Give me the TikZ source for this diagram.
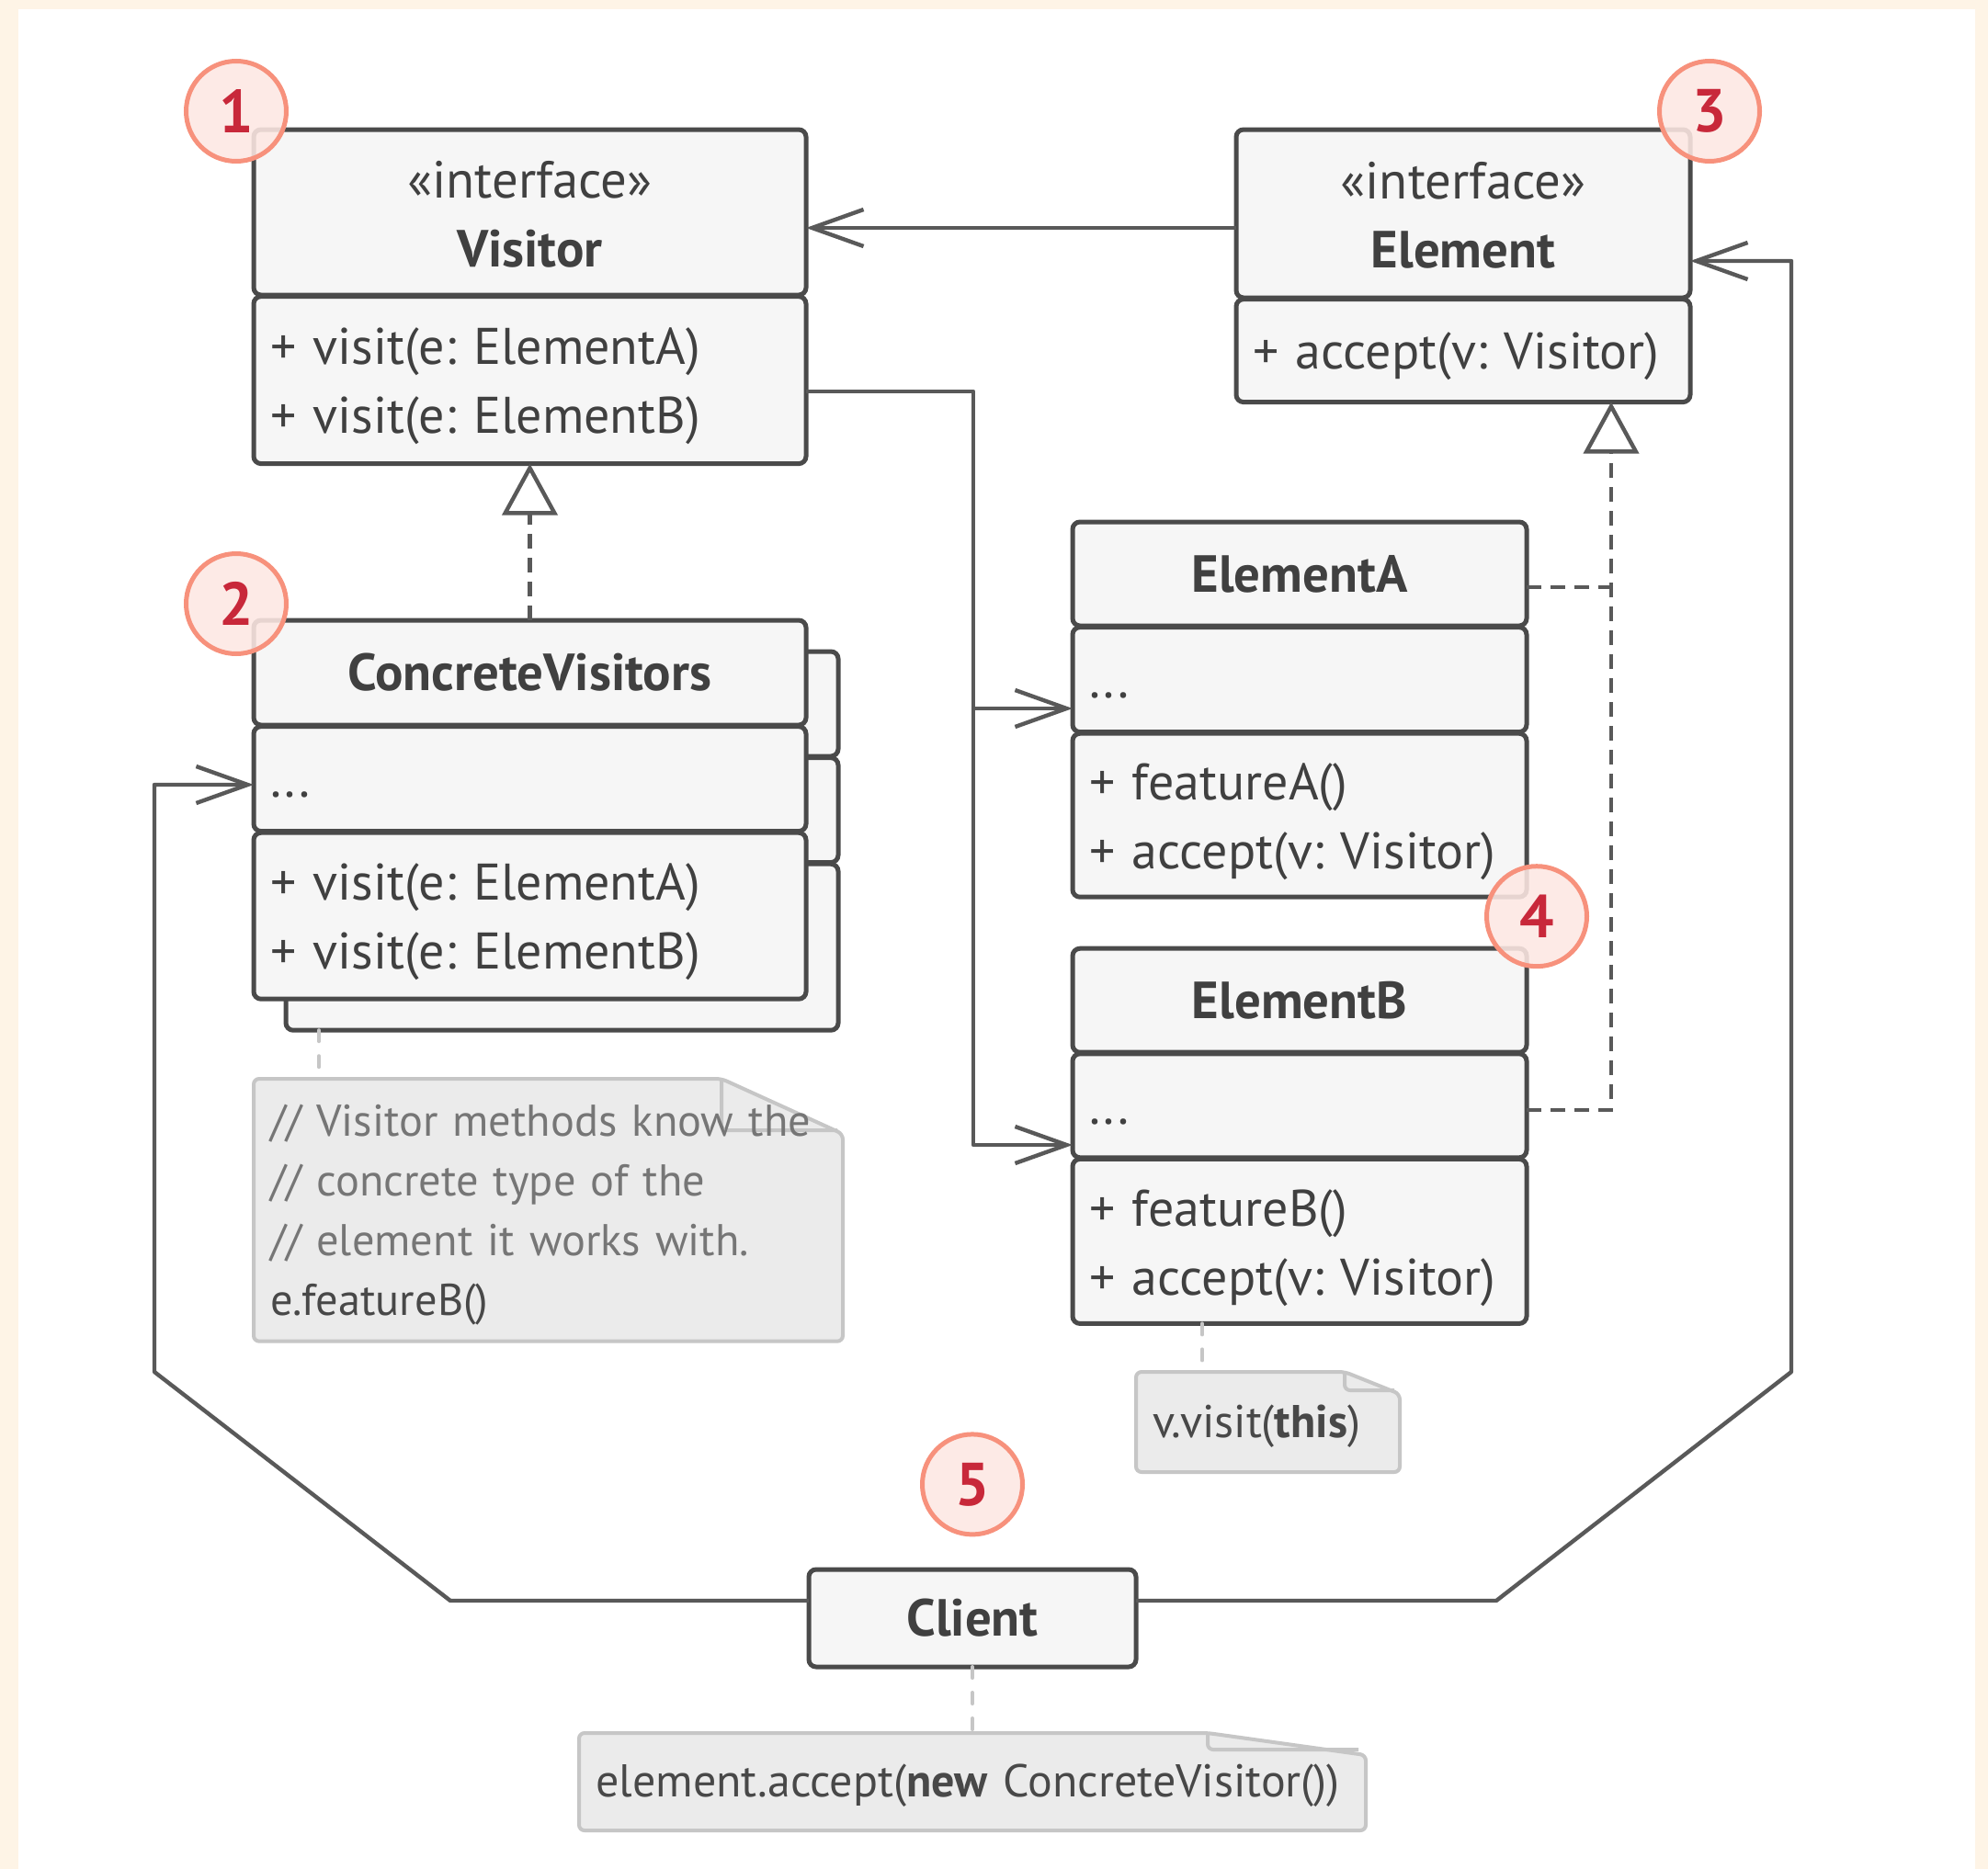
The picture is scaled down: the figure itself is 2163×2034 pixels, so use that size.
\documentclass[tikz,border=0pt]{standalone}
\usepackage{fontspec}
\setmainfont{PT Sans}
\usepackage{tikz}
\usetikzlibrary{positioning,arrows.meta,backgrounds}

\definecolor{pagecream}{HTML}{FEF4E6}
\definecolor{boxline}{HTML}{4A4A4A}
\definecolor{boxfill}{HTML}{F6F6F6}
\definecolor{boxtext}{HTML}{404040}
\definecolor{wire}{HTML}{595959}
\definecolor{notefill}{HTML}{EBEBEB}
\definecolor{noteline}{HTML}{C6C6C6}
\definecolor{notecomment}{HTML}{767676}
\definecolor{notecode}{HTML}{484848}
\definecolor{badgefill}{HTML}{FDE8E3}
\definecolor{badgeline}{HTML}{F7917C}
\definecolor{badgenum}{HTML}{C8283A}

\tikzset{
  umlpart/.style={draw=boxline, fill=boxfill, line width=1.25pt, rounded corners=2pt,
    outer sep=0pt, inner sep=4.5pt, text=boxtext, font=\fontsize{14}{18.75}\selectfont},
  umlhead/.style={umlpart, align=center, font=\fontsize{14.2}{18.75}\selectfont},
  umliface/.style={umlhead, text height=29.7pt},
  umlbody/.style={umlpart, text width=#1, align=left},
  umlops/.style={umlbody=#1, text height=13.4pt},
  umlattrs/.style={umlbody=#1, text height=13pt, text depth=3pt},
  notetext/.style={text width=#1, align=left, inner sep=4.5pt, outer sep=0pt, text=notecode,
    text height=11pt, font=\fontsize{12.1}{16.25}\selectfont},
  noteshape/.style={draw=noteline, fill=notefill, line width=1pt, rounded corners=1.5pt, line join=round},
  noteconn/.style={draw=noteline, line width=1pt, line cap=round, dash pattern=on 3pt off 4pt},
  assoc/.style={draw=wire, line width=1.1pt, line join=round, -{Straight Barb[length=14pt,width=10pt]}},
  dashwire/.style={draw=wire, line width=1.1pt, dash pattern=on 4pt off 2.5pt},
  realize/.style={dashwire, -{Triangle[open,fill=white,length=14pt,width=15pt]}},
  badge/.style={circle, draw=badgeline, fill=badgefill, fill opacity=0.88, text opacity=1,
    line width=1.25pt, minimum size=27.25pt, inner sep=0pt, text=badgenum,
    font=\fontsize{16.5}{16.5}\bfseries\selectfont}
}

\begin{document}
\frenchspacing
\begin{tikzpicture}[x=0.25pt, y=-0.25pt]
  \useasboundingbox (0,0) rectangle (2163,2034);

  % Visitor interface
  \node[umliface, minimum width=150.25pt, minimum height=45pt, anchor=north west] (visitor) at (276,141) {«interface»\\\textbf{Visitor}};
  \node[umlops=141.25pt, minimum height=45.5pt, below=0.4pt of visitor] (visitorOps) {+ visit(e: ElementA)\\+ visit(e: ElementB)};

  % Element interface
  \node[umliface, minimum width=123.5pt, minimum height=45.75pt, anchor=north west] (element) at (1345,141) {«interface»\\\textbf{Element}};
  \node[umlattrs=114.5pt, minimum height=28pt, below=0.4pt of element] (elementOps) {+ accept(v: Visitor)};

  % concrete visitors (copy behind)
  \node[umlpart, minimum width=150.25pt, minimum height=28.5pt, anchor=north west] (cvBack) at (311,709) {};
  \node[umlpart, minimum width=150.25pt, minimum height=28.5pt, below=0.4pt of cvBack] (cvBackAttrs) {};
  \node[umlpart, minimum width=150.25pt, minimum height=45.25pt, below=0.4pt of cvBackAttrs] (cvBackOps) {};

  \node[umlhead, minimum width=150.25pt, minimum height=28.5pt, anchor=north west] (cv) at (276,675) {\textbf{ConcreteVisitors}};
  \node[umlattrs=141.25pt, minimum height=28.5pt, below=0.4pt of cv] (cvAttrs) {...};
  \node[umlops=141.25pt, minimum height=45.25pt, below=0.4pt of cvAttrs] (cvOps) {+ visit(e: ElementA)\\+ visit(e: ElementB)};

  % concrete elements
  \node[umlhead, minimum width=123.5pt, minimum height=28.25pt, anchor=north west] (elementA) at (1167,568) {\textbf{ElementA}};
  \node[umlattrs=114.5pt, minimum height=28.5pt, below=0.4pt of elementA] (elementAAttrs) {...};
  \node[umlops=114.5pt, minimum height=44.5pt, below=0.4pt of elementAAttrs] (elementAOps) {+ featureA()\\+ accept(v: Visitor)};

  \node[umlhead, minimum width=123.5pt, minimum height=28.25pt, below=14pt of elementAOps] (elementB) {\textbf{ElementB}};
  \node[umlattrs=114.5pt, minimum height=28.25pt, below=0.4pt of elementB] (elementBAttrs) {...};
  \node[umlops=114.5pt, minimum height=44.75pt, below=0.4pt of elementBAttrs] (elementBOps) {+ featureB()\\+ accept(v: Visitor)};

  % client
  \node[umlhead, minimum width=89pt, minimum height=26.5pt, anchor=north west] (client) at (880,1708) {\textbf{Client}};

  % notes
  \node[notetext=151.25pt, minimum height=71pt, anchor=north west] (note1) at (276,1174)
    {\textcolor{notecomment}{// Visitor methods know the}\\\textcolor{notecomment}{// concrete type of the}\\\textcolor{notecomment}{// element it works with.}\\e.featureB()};
  \node[notetext=62.75pt, minimum height=27.25pt, anchor=north west, font=\fontsize{12.5}{16.25}\selectfont] (note2) at (1236,1493) {v.visit(\textbf{this})};
  \node[notetext=205pt, minimum height=26.5pt, anchor=north west, font=\fontsize{12.5}{16.25}\selectfont] (note3) at (630,1886) {element.accept(\textbf{new} ConcreteVisitor())};

  \draw[noteconn] (cvBackOps.south -| 347,0) -- (note1.north -| 347,0);
  \draw[noteconn] (elementBOps.south -| 1308,0) -- (note2.north -| 1308,0);
  \draw[noteconn] (client.south) -- (note3.north -| client.south);

  % relations
  \draw[assoc] (element.west |- 0,248) -- (visitor.east |- 0,248);
  \draw[assoc] (visitorOps.east |- 0,426) -| (1059,1246) -- (elementBAttrs.west |- 0,1246);
  \draw[assoc] (1059,771) -- (elementAAttrs.west |- 0,771);
  \draw[realize] (cv.north) -- (visitorOps.south);
  \draw[dashwire] (elementA.east |- 0,639) -- (1753,639);
  \draw[realize] (elementBAttrs.east |- 0,1208) -| (elementOps.south -| 1753,0);
  \draw[assoc] (client.west |- 0,1742) -- (490,1742) -- (168,1493) -- (168,854) -- (cvAttrs.west |- 0,854);
  \draw[assoc] (client.east |- 0,1742) -- (1628,1742) -- (1949,1493) -- (1949,284) -- (element.east |- 0,284);

  % numbered badges
  \node[badge] (badge1) at ([shift={(-19,-20)}]visitor.north west) {1};
  \node[badge] (badge2) at ([shift={(-19,-18)}]cv.north west) {2};
  \node[badge] (badge3) at ([shift={(21,-20)}]element.north east) {3};
  \node[badge] (badge4) at ([shift={(11,21)}]elementAOps.south east) {4};
  \node[badge, above=8.9pt of client] (badge5) {5};

  \begin{scope}[on background layer]
    \fill[pagecream] (0,0) rectangle (2163,2034);
    \fill[white] (20,10) rectangle (2149,2034);
    \filldraw[noteshape] (note1.north west) -- ([xshift=-33pt]note1.north east) -- ([yshift=-15pt]note1.north east) -- (note1.south east) -- (note1.south west) -- cycle;
    \draw[noteshape, fill=none] ([xshift=-33pt]note1.north east) -- ([xshift=-33pt,yshift=-14pt]note1.north east) -- ([xshift=-1.5pt,yshift=-14pt]note1.north east);
    \filldraw[noteshape] (note2.north west) -- ([xshift=-15pt]note2.north east) -- ([yshift=-6pt]note2.north east) -- (note2.south east) -- (note2.south west) -- cycle;
    \draw[noteshape, fill=none] ([xshift=-15pt]note2.north east) -- ([xshift=-15pt,yshift=-5pt]note2.north east) -- ([xshift=-1.5pt,yshift=-5pt]note2.north east);
    \filldraw[noteshape] (note3.north west) -- ([xshift=-43pt]note3.north east) -- ([yshift=-6pt]note3.north east) -- (note3.south east) -- (note3.south west) -- cycle;
    \draw[noteshape, fill=none] ([xshift=-43pt]note3.north east) -- ([xshift=-43pt,yshift=-4.5pt]note3.north east) -- ([xshift=-2pt,yshift=-4.5pt]note3.north east);
  \end{scope}
\end{tikzpicture}
\end{document}
